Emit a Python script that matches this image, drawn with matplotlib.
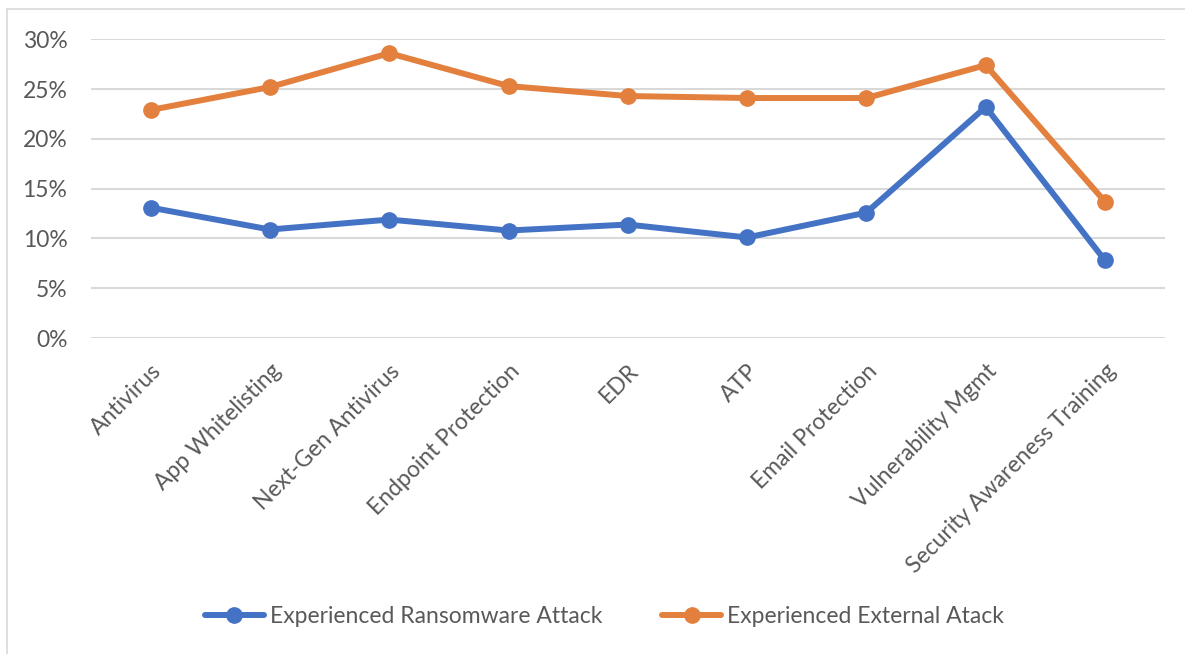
import matplotlib
matplotlib.use("Agg")
from matplotlib import pyplot as plt
from matplotlib.lines import Line2D
from matplotlib.ticker import PercentFormatter

# categories and series values (fractions)
categories = ["Antivirus", "App Whitelisting", "Next-Gen Antivirus", "Endpoint Protection",
              "EDR", "ATP", "Email Protection", "Vulnerability Mgmt",
              "Security Awareness Training"]
ransomware = [0.131, 0.109, 0.119, 0.108, 0.114, 0.101, 0.126, 0.232, 0.078]
external = [0.229, 0.252, 0.286, 0.253, 0.243, 0.241, 0.241, 0.274, 0.137]

BLUE = "#4472C4"
ORANGE = "#E3803D"
GRAY = "#595959"
FS = 16.5
plt.rcParams['font.family'] = ['Lato', 'DejaVu Sans']

fig = plt.figure(figsize=(11.85, 6.54), dpi=100)
ax = fig.add_axes([0.0768, 0.483, 0.906, 0.457])

x = range(len(categories))
ax.plot(x, ransomware, color=BLUE, lw=4.3, marker='o', ms=11,
        solid_capstyle='round', label='Experienced Ransomware Attack')
ax.plot(x, external, color=ORANGE, lw=4.3, marker='o', ms=11,
        solid_capstyle='round', label='Experienced External Atack')

ax.set_xlim(-0.5, len(categories) - 0.5)
ax.set_ylim(0, 0.30)
ax.set_yticks([0, 0.05, 0.10, 0.15, 0.20, 0.25, 0.30])
ax.yaxis.set_major_formatter(PercentFormatter(1.0, decimals=0))
ax.grid(axis='y', color='#D9D9D9', lw=1.5)
ax.set_axisbelow(True)
for s in ax.spines.values():
    s.set_visible(False)
ax.tick_params(length=0, labelsize=FS, colors=GRAY)
ax.tick_params(axis='y', pad=17)

ax.set_xticks(list(x))
ax.set_xticklabels(categories, rotation=45, ha='right', va='top',
                   rotation_mode='anchor', fontsize=FS, color=GRAY)
ax.tick_params(axis='x', pad=16)

leg = ax.legend(loc='center', bbox_to_anchor=(0.51, 0.058), bbox_transform=fig.transFigure,
                ncol=2, frameon=False, fontsize=FS, handlelength=2.6,
                columnspacing=2.6, handletextpad=0.25)
for t in leg.get_texts():
    t.set_color(GRAY)

# thin chart border along top and left
fig.add_artist(Line2D([7 / 1185, 1], [1 - 9 / 654, 1 - 9 / 654], color='#D9D9D9', lw=1.2))
fig.add_artist(Line2D([7 / 1185, 7 / 1185], [0, 1 - 9 / 654], color='#D9D9D9', lw=1.2))

fig.savefig("out.png", dpi=100)
